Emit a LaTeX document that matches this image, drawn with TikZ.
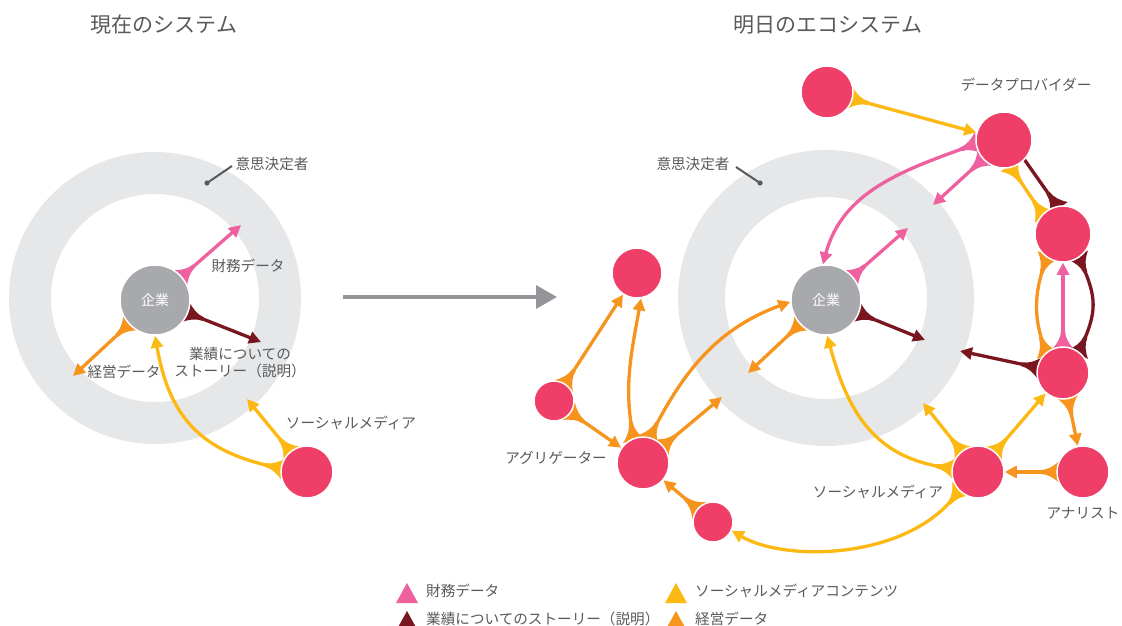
\documentclass[tikz,border=0pt]{standalone}
\usepackage{fontspec}
\setmainfont{Noto Sans CJK JP}
\usetikzlibrary{arrows.meta}
\definecolor{txt}{HTML}{58595B}
\definecolor{nodepink}{HTML}{EF3E68}
\definecolor{pinkc}{HTML}{EE609E}
\definecolor{dkred}{HTML}{7A1620}
\definecolor{yel}{HTML}{FDB913}
\definecolor{orc}{HTML}{F7941E}
\definecolor{corpgray}{HTML}{A7A9AC}
\definecolor{ringc}{HTML}{E6E7E8}
\definecolor{bigg}{HTML}{939598}
\pgfdeclarelayer{bg}
\pgfdeclarelayer{edges}
\pgfsetlayers{bg,edges,main}
\makeatletter
\pgfdeclarearrow{
  name = Fan,
  setup code = {
    \pgfarrowssettipend{0pt}
    \pgfarrowssetbackend{-\pgfarrowlength}
    \pgfarrowssetlineend{-0.5\pgfarrowlength}
    \pgfarrowsupperhullpoint{0pt}{.5\pgfarrowwidth}
    \pgfarrowsupperhullpoint{-\pgfarrowlength}{.5\pgfarrowwidth}
    \pgfarrowssavethe\pgfarrowlength
    \pgfarrowssavethe\pgfarrowwidth
  },
  drawing code = {
    \pgfpathmoveto{\pgfqpoint{0pt}{.5\pgfarrowwidth}}
    \pgfpathcurveto{\pgfqpoint{-.3\pgfarrowlength}{.26\pgfarrowwidth}}{\pgfqpoint{-.6\pgfarrowlength}{.1\pgfarrowwidth}}{\pgfqpoint{-\pgfarrowlength}{.085\pgfarrowwidth}}
    \pgfpathlineto{\pgfqpoint{-\pgfarrowlength}{-.085\pgfarrowwidth}}
    \pgfpathcurveto{\pgfqpoint{-.6\pgfarrowlength}{-.1\pgfarrowwidth}}{\pgfqpoint{-.3\pgfarrowlength}{-.26\pgfarrowwidth}}{\pgfqpoint{0pt}{-.5\pgfarrowwidth}}
    \pgfpathclose
    \pgfusepathqfill
  },
  parameters = {\the\pgfarrowlength,\the\pgfarrowwidth},
  defaults = {length=19pt, width=22pt}
}
\makeatother
\tikzset{
  lbl/.style={text=txt, font=\fontsize{14.6}{17}\selectfont, inner sep=0pt},
  ttl/.style={text=txt, font=\fontsize{21}{24}\selectfont, inner sep=0pt},
  pn/.style={circle, fill=nodepink, draw=white, line width=1.5pt, inner sep=0pt},
  corp/.style={circle, fill=corpgray, draw=white, line width=1.5pt, minimum size=70pt, inner sep=0pt, text=white, font=\fontsize{14}{16}\selectfont},
  con/.style={line width=3.3pt, shorten <=-3pt},
  Flare/.tip={Fan[length=19pt,width=22pt]},
  Head/.tip={Triangle[width=12pt,length=12pt]},
  ring/.style={draw=ringc},
  pointer/.style={draw=txt, line width=2pt},
}
\begin{document}
\begin{tikzpicture}[x=1pt,y=1pt]
\useasboundingbox (0,0) rectangle (1122,-626);
% titles
\node[ttl] (t1) at (164,-25) {現在のシステム};
\node[ttl] (t2) at (828,-25) {明日のエコシステム};
% rings
\begin{pgfonlayer}{bg}
\draw[ring, line width=42pt] (155,-298) circle (125pt);
\draw[ring, line width=47pt] (826,-298) circle (124.5pt);
\end{pgfonlayer}
% ---------------- left diagram ----------------
\node[corp] (corpL) at (155,-300) {企業};
\node[pn, minimum size=52pt] (smL) at (307,-472) {};
\coordinate (pL) at (241,-225);
\coordinate (dL) at (261,-342);
\coordinate (oL) at (73,-376);
\coordinate (yL) at (247,-399);
\node[lbl] (lfinL) at (248,-266) {財務データ};
\node[lbl, align=center] (lstoryL) at (240,-363) {業績についての\\ストーリー（説明）};
\node[lbl] (lmgmtL) at (124,-372) {経営データ};
\node[lbl] (lsmL) at (351,-423) {ソーシャルメディア};
\node[lbl] (ldmL) at (272,-164) {意思決定者};
\coordinate (dmL) at (207,-183);
\coordinate (dmLe) at (232,-166);
\fill[txt] (dmL) circle (2.6pt);
\draw[pointer] (dmL) -- (dmLe);
\begin{pgfonlayer}{edges}
\draw[con, pinkc, Flare-Head] (corpL) -- (pL);
\draw[con, dkred, Flare-Head] (corpL) -- (dL);
\draw[con, orc, Flare-Head] (corpL) -- (oL);
\draw[con, yel, Flare-Head] (smL) -- (yL);
\draw[con, yel, Flare-Head] (smL.172) to[out=168,in=-80,looseness=1.15] (corpL.-90);
\end{pgfonlayer}
% big arrow
\coordinate (ga1) at (343,-297);
\coordinate (ga2) at (557,-297);
\draw[bigg, line width=3.5pt, -{Triangle[width=23pt,length=21pt]}] (ga1) -- (ga2);
% ---------------- right diagram ----------------
\node[corp] (corpR) at (826,-300) {企業};
\node[pn, minimum size=52pt] (ntop) at (827,-92) {};
\node[pn, minimum size=56pt] (dp) at (1004,-140) {};
\node[pn, minimum size=56pt] (n2) at (1063,-234) {};
\node[pn, minimum size=52pt] (n3) at (1063,-373) {};
\node[pn, minimum size=52pt] (an) at (1083,-472) {};
\node[pn, minimum size=52pt] (smR) at (978,-472) {};
\node[pn, minimum size=52pt] (agg) at (643,-463) {};
\node[pn, minimum size=50pt] (atop) at (637,-273) {};
\node[pn, minimum size=40pt] (aleft) at (554,-401) {};
\node[pn, minimum size=40pt] (abot) at (713,-522) {};
\node[lbl] (ldmR) at (693,-164) {意思決定者};
\node[lbl] (ldp) at (1026,-85) {データプロバイダー};
\node[lbl] (lsmR) at (878,-492) {ソーシャルメディア};
\node[lbl] (lan) at (1083,-513) {アナリスト};
\node[lbl] (lagg) at (556,-458) {アグリゲーター};
\coordinate (dmR) at (760,-183);
\coordinate (dmRe) at (736,-167);
\fill[txt] (dmR) circle (2.6pt);
\draw[pointer] (dmR) -- (dmRe);
\coordinate (pk2) at (933,-205);
\coordinate (pk3) at (908,-228);
\coordinate (dk1) at (925,-340);
\coordinate (dk2) at (960,-351);
\coordinate (y2) at (923,-403);
\coordinate (o3) at (722,-397);
\coordinate (o4) at (748,-373);
\begin{pgfonlayer}{edges}
\draw[con, yel, Flare-Head] (ntop) -- (dp);
\draw[con, pinkc, Flare-Head] (dp.188) to[out=200,in=75] (corpR.95);
\draw[con, pinkc, Flare-Head] (dp) -- (pk2);
\draw[con, pinkc, Flare-Head] (corpR) -- (pk3);
\draw[con, dkred, Flare-Head] (corpR) -- (dk1);
\draw[con, dkred, Flare-Head] (n3) -- (dk2);
\draw[con, dkred, Flare-, shorten >=-3pt] (n2.102) -- (dp.-44);
\draw[con, yel, Flare-Flare, shorten >=-3pt] (dp.-75) -- (n2.136);
\draw[con, pinkc, Flare-Head] (n3) -- (n2);
\draw[con, orc, Flare-Flare, shorten >=-3pt] (n2.-124) to[out=-110,in=110] (n3.129);
\draw[con, dkred, Flare-Flare, shorten >=-3pt] (n2.-56) to[out=-66,in=66,looseness=1.2] (n3.53);
\draw[con, orc, Flare-Head] (n3) -- (an);
\draw[con, orc, Flare-Head] (an) -- (smR);
\draw[con, yel, Flare-Head] (smR) -- (n3);
\draw[con, yel, Flare-Head] (smR) -- (y2);
\draw[con, yel, Flare-Head] (smR.172) to[out=172,in=-75,looseness=1.1] (corpR.-88);
\draw[con, yel, Flare-Head] (smR.-135) .. controls (905,-560) and (785,-562) .. (abot.-25);
\draw[con, orc, Flare-Head] (abot) -- (agg);
\draw[con, orc, Flare-Head] (aleft) -- (agg);
\draw[con, orc, Flare-Head] (aleft) -- (atop);
\draw[con, orc, Flare-Head] (agg.111) to[out=100,in=-100] (atop.-81);
\draw[con, orc, Flare-Head] (agg.75) to[out=63,in=200] (corpR.183);
\draw[con, orc, Flare-Head] (agg) -- (o3);
\draw[con, orc, Flare-Head] (corpR) -- (o4);
\end{pgfonlayer}
% ---------------- legend ----------------
\fill[pinkc] (396,-603) -- (418,-603) -- (407,-583) -- cycle;
\fill[dkred] (396,-631) -- (418,-631) -- (407,-611) -- cycle;
\fill[yel] (665,-603) -- (687,-603) -- (676,-583) -- cycle;
\fill[orc] (665,-631) -- (687,-631) -- (676,-611) -- cycle;
\node[lbl, anchor=west] (lg1) at (426,-591) {財務データ};
\node[lbl, anchor=west] (lg2) at (426,-619) {業績についてのストーリー（説明）};
\node[lbl, anchor=west] (lg3) at (695,-591) {ソーシャルメディアコンテンツ};
\node[lbl, anchor=west] (lg4) at (695,-619) {経営データ};
\end{tikzpicture}
\end{document}
